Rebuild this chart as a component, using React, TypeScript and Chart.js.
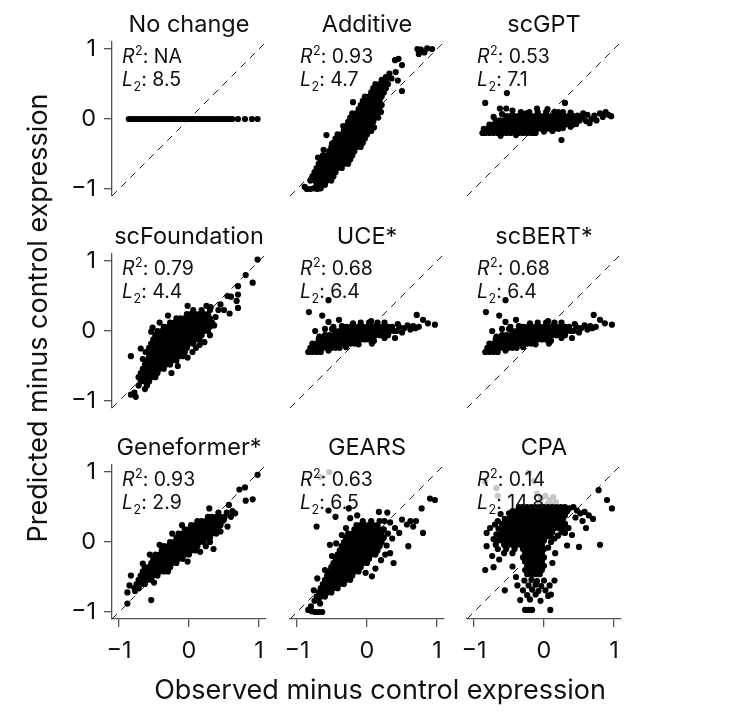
import React, { useEffect, useRef } from 'react';
import { Chart, registerables } from 'chart.js';

Chart.register(...registerables);

const FONT = "Inter, 'Noto Sans', sans-serif";

const panelTitles = ['No change', 'Additive', 'scGPT', 'scFoundation', 'UCE*', 'scBERT*', 'Geneformer*', 'GEARS', 'CPA'];
const r2Labels = ['NA', '0.93', '0.53', '0.79', '0.68', '0.68', '0.93', '0.63', '0.14'];
const l2Labels = ['8.5', '4.7', '7.1', '4.4', '6.4', '6.4', '2.9', '6.5', '14.8'];
const tickValues = [-1, 0, 1];

type Rows = number[][];
type Pairs = [number, number][];

// No change predicts 0 for every gene; observed values along the line
const noChangeObserved = [
  -0.86, -0.83, -0.79, -0.76, -0.72, -0.69, -0.65, -0.62, -0.58, -0.55, -0.51, -0.48, -0.44, -0.41,
  -0.37, -0.34, -0.3, -0.27, -0.23, -0.2, -0.16, -0.13, -0.09, -0.06, -0.02, 0.01, 0.05, 0.08, 0.12,
  0.15, 0.19, 0.22, 0.26, 0.29, 0.33, 0.36, 0.4, 0.43, 0.47, 0.5, 0.54, 0.57, 0.6, 0.62, 0.7, 0.8, 0.9, 0.98,
];

const additiveRows: Rows = [
  [-0.94, -0.72, -0.66, -0.6],
  [-0.88, -0.81, -0.75, -0.69, -0.63, -0.57, -0.51],
  [-0.82, -0.78, -0.72, -0.66, -0.6, -0.54, -0.48],
  [-0.76, -0.75, -0.69, -0.63, -0.57, -0.51, -0.45],
  [-0.7, -0.72, -0.66, -0.6, -0.54, -0.48, -0.42, -0.36],
  [-0.64, -0.69, -0.63, -0.57, -0.51, -0.45, -0.39, -0.33, -0.27],
  [-0.58, -0.66, -0.6, -0.54, -0.48, -0.42, -0.36, -0.3, -0.24],
  [-0.52, -0.63, -0.57, -0.51, -0.45, -0.39, -0.33, -0.27, -0.21],
  [-0.46, -0.54, -0.48, -0.42, -0.36, -0.3, -0.24, -0.18],
  [-0.4, -0.51, -0.45, -0.39, -0.33, -0.27, -0.21, -0.15, -0.09],
  [-0.34, -0.48, -0.42, -0.36, -0.3, -0.24, -0.18, -0.12, -0.06],
  [-0.28, -0.45, -0.39, -0.33, -0.27, -0.21, -0.15, -0.09, -0.03],
  [-0.22, -0.42, -0.36, -0.3, -0.24, -0.18, -0.12, -0.06, 0.0],
  [-0.16, -0.33, -0.27, -0.21, -0.15, -0.09, -0.03, 0.03],
  [-0.1, -0.3, -0.24, -0.18, -0.12, -0.06, 0.0, 0.06],
  [-0.04, -0.27, -0.21, -0.15, -0.09, -0.03, 0.03, 0.09],
  [0.02, -0.24, -0.18, -0.12, -0.06, 0.0, 0.06, 0.12],
  [0.08, -0.21, -0.15, -0.09, -0.03, 0.03, 0.09, 0.15],
  [0.14, -0.12, -0.06, 0.0, 0.06, 0.12, 0.18],
  [0.2, -0.09, -0.03, 0.03, 0.09, 0.15, 0.21],
  [0.26, -0.06, 0.0, 0.06, 0.12, 0.18],
  [0.32, -0.03, 0.03, 0.09, 0.15, 0.21],
  [0.38, 0.06, 0.12, 0.18, 0.24],
  [0.44, 0.09, 0.15, 0.21, 0.27],
  [0.5, 0.12, 0.18, 0.24, 0.3],
  [0.56, 0.21, 0.27],
];
const additiveExtra: Pairs = [
  [-0.86, -1.0], [-0.81, -1.0], [-0.76, -0.99], [-0.71, -1.0], [-0.66, -0.99], [-0.89, -0.97],
  [-0.58, -0.23], [0.27, 0.6], [0.32, 0.65], [0.35, 0.58], [0.41, 0.67], [0.44, 0.55], [0.5, 0.4],
  [0.4, 0.84], [0.45, 0.86], [0.5, 0.77], [0.72, 1.0], [0.77, 0.99], [0.82, 0.95], [0.86, 1.01],
  [0.93, 1.0], [0.74, 0.93], [0.1, -0.12], [0.16, 0.02], [-0.5, -0.35],
  [-0.46, -0.56], [-0.36, -0.46], [-0.1, -0.28], [0.06, -0.17], [0.2, 0.1], [-0.34, -0.1], [-0.2, 0.24],
  [-0.62, -0.44], [-0.7, -0.55],
];

const scgptRows: Rows = [
  [-0.2, -0.84, -0.78, -0.72, -0.66, -0.6, -0.54, -0.48, -0.42, -0.36, -0.3, -0.24, -0.18, -0.12],
  [-0.14, -0.81, -0.75, -0.69, -0.63, -0.57, -0.51, -0.45, -0.39, -0.33, -0.27, -0.21, -0.15, -0.09, -0.03, 0.03, 0.09, 0.15, 0.21],
  [-0.08, -0.78, -0.72, -0.66, -0.6, -0.54, -0.48, -0.42, -0.36, -0.3, -0.24, -0.18, -0.12, -0.06, 0.0, 0.06, 0.12, 0.18, 0.24, 0.3, 0.36, 0.42],
  [-0.02, -0.69, -0.63, -0.57, -0.51, -0.45, -0.39, -0.33, -0.27, -0.21, -0.15, -0.09, -0.03, 0.03, 0.09, 0.15, 0.21, 0.27, 0.33, 0.39, 0.45, 0.51],
  [0.04, -0.54, -0.48, -0.42, -0.36, -0.3, -0.24, -0.18, -0.12, -0.06, 0.0, 0.06, 0.12, 0.18, 0.24, 0.3, 0.36, 0.42],
  [0.1, -0.33, -0.21, -0.09, 0.03, 0.15, 0.27],
];
const scgptExtra: Pairs = [
  [-0.88, -0.2], [0.55, 0.02], [0.56, 0.08], [0.6, -0.03], [0.62, 0.06], [0.65, -0.06], [0.68, 0.0],
  [0.72, 0.05], [0.75, -0.02], [0.8, 0.08], [0.84, 0.03], [0.88, 0.1], [0.92, 0.06], [0.96, 0.04],
  [-0.84, 0.23], [-0.53, 0.37], [-0.63, 0.15], [-0.54, 0.15], [0.25, -0.3], [0.3, 0.23], [0.46, -0.07],
  [-0.45, 0.12], [-0.1, 0.15], [0.05, 0.14],
  [-0.62, -0.24], [-0.4, -0.23], [-0.16, -0.2], [0.0, -0.18], [0.12, -0.17], [0.27, -0.13], [0.38, -0.11],
  [-0.6, 0.07], [-0.25, 0.08], [0.2, 0.1], [0.38, 0.09], [0.48, 0.05], [-0.86, -0.14], [-0.72, 0.03],
];

const scfoundationRows: Rows = [
  [0.3, 0.06, 0.18, 0.3, 0.42],
  [0.24, -0.03, 0.03, 0.09, 0.15, 0.21, 0.27],
  [0.18, -0.18, -0.12, -0.06, 0.0, 0.06, 0.12, 0.18, 0.24, 0.3],
  [0.12, -0.27, -0.21, -0.15, -0.09, -0.03, 0.03, 0.09, 0.15, 0.21, 0.27, 0.33],
  [0.06, -0.36, -0.3, -0.24, -0.18, -0.12, -0.06, 0.0, 0.06, 0.12, 0.18, 0.24, 0.3],
  [0.0, -0.45, -0.39, -0.33, -0.27, -0.21, -0.15, -0.09, -0.03, 0.03, 0.09, 0.15, 0.21, 0.27],
  [-0.06, -0.48, -0.42, -0.36, -0.3, -0.24, -0.18, -0.12, -0.06, 0.0, 0.06, 0.12, 0.18],
  [-0.12, -0.51, -0.45, -0.39, -0.33, -0.27, -0.21, -0.15, -0.09, -0.03, 0.03, 0.09, 0.15],
  [-0.18, -0.54, -0.48, -0.42, -0.36, -0.3, -0.24, -0.18, -0.12, -0.06, 0.0, 0.06],
  [-0.24, -0.57, -0.51, -0.45, -0.39, -0.33, -0.27, -0.21, -0.15, -0.09, -0.03],
  [-0.3, -0.54, -0.48, -0.42, -0.36, -0.3, -0.24, -0.18, -0.12, -0.06],
  [-0.36, -0.57, -0.51, -0.45, -0.39, -0.33, -0.27, -0.21, -0.15, -0.09],
  [-0.42, -0.6, -0.54, -0.48, -0.42, -0.36, -0.3, -0.24, -0.18],
  [-0.48, -0.63, -0.57, -0.51, -0.45, -0.39, -0.33, -0.27],
  [-0.54, -0.66, -0.6, -0.54, -0.48, -0.42, -0.36],
  [-0.6, -0.69, -0.63, -0.57, -0.51, -0.45],
  [-0.66, -0.72, -0.66, -0.6, -0.54, -0.48],
  [-0.72, -0.69, -0.63, -0.57],
  [-0.78, -0.72, -0.6],
];
const scfoundationExtra: Pairs = [
  [-0.83, -0.91], [-0.78, -0.88], [-0.76, -0.94], [-0.63, -0.83], [-0.83, -0.36], [-0.69, -0.25], [-0.54, -0.01],
  [0.31, 0.34], [0.5, 0.3], [0.58, 0.25], [0.7, 0.33], [0.55, 0.5], [0.6, 0.49], [0.7, 0.52], [0.68, 0.43],
  [0.81, 0.8], [0.91, 0.69], [0.98, 1.02], [0.7, 0.64], [0.45, 0.38], [0.38, 0.2], [-0.25, -0.6], [0.05, -0.3],
  [0.15, -0.2], [-0.02, 0.36], [0.25, 0.36],
  [-0.52, 0.05], [-0.42, 0.12], [-0.3, 0.22], [0.36, 0.08], [0.3, -0.06], [0.22, -0.16], [0.1, -0.24],
  [-0.66, -0.4], [-0.62, -0.3], [-0.02, -0.38], [-0.16, -0.5],
];

const uceRows: Rows = [
  [-0.3, -0.84, -0.78, -0.72, -0.66],
  [-0.24, -0.81, -0.75, -0.69, -0.63, -0.57, -0.51, -0.45, -0.39],
  [-0.18, -0.78, -0.72, -0.66, -0.6, -0.54, -0.48, -0.42, -0.36, -0.3, -0.24, -0.18],
  [-0.12, -0.69, -0.63, -0.57, -0.51, -0.45, -0.39, -0.33, -0.27, -0.21, -0.15, -0.09, -0.03, 0.03],
  [-0.06, -0.6, -0.54, -0.48, -0.42, -0.36, -0.3, -0.24, -0.18, -0.12, -0.06, 0.0, 0.06, 0.12, 0.18, 0.24, 0.3],
  [0.0, -0.45, -0.39, -0.33, -0.27, -0.21, -0.15, -0.09, -0.03, 0.03, 0.09, 0.15, 0.21, 0.27, 0.33, 0.39],
  [0.06, -0.3, -0.24, -0.18, -0.12, -0.06, 0.0, 0.06, 0.12, 0.18, 0.24, 0.3, 0.36],
  [0.12, -0.09, 0.03, 0.15],
];
const uceExtra: Pairs = [
  [0.42, 0.0], [0.46, 0.06], [0.5, -0.02], [0.53, 0.04], [0.58, 0.08], [0.62, 0.02], [0.66, 0.07],
  [0.69, 0.04], [0.74, 0.06], [0.71, 0.23], [0.8, 0.16], [0.87, 0.11], [0.97, 0.09], [0.44, 0.1],
  [-0.83, 0.27], [-0.64, 0.22], [-0.74, 0.0], [-0.55, 0.44], [-0.4, 0.16], [-0.55, 0.13], [-0.48, 0.06],
  [0.07, -0.18], [0.4, -0.1], [-0.6, 0.03],
  [-0.55, -0.28], [-0.3, -0.23], [-0.12, -0.19], [0.1, -0.14], [0.25, -0.1], [-0.68, -0.08], [-0.5, 0.03],
  [-0.36, 0.07], [-0.2, 0.11], [0.06, 0.14], [0.25, 0.12],
];

// scBERT* reads the same as UCE* in the figure
const scbertRows: Rows = uceRows;
const scbertExtra: Pairs = uceExtra;

const geneformerRows: Rows = [
  [0.42, 0.42, 0.54],
  [0.36, 0.27, 0.33, 0.39, 0.45, 0.51],
  [0.3, 0.12, 0.18, 0.24, 0.3, 0.36, 0.42, 0.48],
  [0.24, 0.03, 0.09, 0.15, 0.21, 0.27, 0.33, 0.39, 0.45],
  [0.18, -0.06, 0.0, 0.06, 0.12, 0.18, 0.24, 0.3, 0.36, 0.42],
  [0.12, -0.15, -0.09, -0.03, 0.03, 0.09, 0.15, 0.21, 0.27, 0.33, 0.39],
  [0.06, -0.18, -0.12, -0.06, 0.0, 0.06, 0.12, 0.18, 0.24, 0.3],
  [0.0, -0.27, -0.21, -0.15, -0.09, -0.03, 0.03, 0.09, 0.15, 0.21],
  [-0.06, -0.36, -0.3, -0.24, -0.18, -0.12, -0.06, 0.0, 0.06, 0.12, 0.24],
  [-0.12, -0.39, -0.33, -0.27, -0.21, -0.15, -0.09, -0.03, 0.03, 0.09],
  [-0.18, -0.48, -0.42, -0.36, -0.3, -0.24, -0.18, -0.12, -0.06, 0.0],
  [-0.24, -0.51, -0.45, -0.39, -0.33, -0.27, -0.21, -0.15, -0.09],
  [-0.3, -0.54, -0.48, -0.42, -0.36, -0.3, -0.24, -0.18],
  [-0.36, -0.63, -0.57, -0.51, -0.45, -0.39, -0.33, -0.27],
  [-0.42, -0.66, -0.6, -0.54, -0.48, -0.42, -0.36],
  [-0.48, -0.69, -0.63, -0.57, -0.51, -0.45],
  [-0.54, -0.72, -0.66, -0.6, -0.54],
  [-0.6, -0.75, -0.69, -0.63],
  [-0.66, -0.78, -0.72],
];
const geneformerExtra: Pairs = [
  [-0.83, -0.48], [-0.66, -0.31], [-0.54, -0.83], [-0.88, -0.72], [-0.85, -0.62], [-0.77, -0.7], [-0.88, -0.88],
  [0.98, 0.96], [0.8, 0.78], [0.72, 0.75], [0.81, 0.59], [0.91, 0.61], [0.57, 0.53], [0.29, 0.48], [0.5, 0.32],
  [0.6, 0.36], [0.62, 0.44], [0.66, 0.41], [0.55, 0.22], [0.45, 0.15], [0.35, -0.1],
  [-0.56, -0.18], [-0.42, -0.04], [-0.24, 0.12], [-0.1, 0.24], [0.3, 0.0], [0.16, -0.14], [-0.02, -0.28],
  [-0.3, -0.42], [-0.5, -0.58],
];

const gearsRows: Rows = [
  [0.3, -0.06, 0.06, 0.18],
  [0.24, -0.15, -0.09, -0.03, 0.03, 0.09, 0.15],
  [0.18, -0.18, -0.12, -0.06, 0.0, 0.06, 0.12, 0.18, 0.24],
  [0.12, -0.27, -0.21, -0.15, -0.09, -0.03, 0.03, 0.09, 0.15, 0.21],
  [0.06, -0.3, -0.24, -0.18, -0.12, -0.06, 0.0, 0.06, 0.12, 0.18, 0.24],
  [0.0, -0.33, -0.27, -0.21, -0.15, -0.09, -0.03, 0.03, 0.09, 0.15, 0.21],
  [-0.06, -0.36, -0.3, -0.24, -0.18, -0.12, -0.06, 0.0, 0.06, 0.12, 0.18],
  [-0.12, -0.39, -0.33, -0.27, -0.21, -0.15, -0.09, -0.03, 0.03, 0.09, 0.15],
  [-0.18, -0.42, -0.36, -0.3, -0.24, -0.18, -0.12, -0.06, 0.0, 0.06, 0.12],
  [-0.24, -0.45, -0.39, -0.33, -0.27, -0.21, -0.15, -0.09, -0.03, 0.03],
  [-0.3, -0.48, -0.42, -0.36, -0.3, -0.24, -0.18, -0.12, -0.06, 0.0],
  [-0.36, -0.51, -0.45, -0.39, -0.33, -0.27, -0.21, -0.15, -0.09],
  [-0.42, -0.54, -0.48, -0.42, -0.36, -0.3, -0.24, -0.18, -0.12],
  [-0.48, -0.57, -0.51, -0.45, -0.39, -0.33, -0.27, -0.21],
  [-0.54, -0.6, -0.54, -0.48, -0.42, -0.36, -0.3, -0.24],
  [-0.6, -0.63, -0.57, -0.51, -0.45, -0.39, -0.33],
  [-0.66, -0.66, -0.6, -0.54, -0.48, -0.42],
  [-0.72, -0.69, -0.63, -0.57, -0.51],
  [-0.78, -0.72, -0.66, -0.6],
  [-0.84, -0.75, -0.69],
];
const gearsExtra: Pairs = [
  [-0.84, -0.97], [-0.79, -0.99], [-0.74, -1.0], [-0.69, -1.0], [-0.64, -1.0], [-0.8, -0.92], [-0.76, -0.69],
  [-0.71, -0.52], [-0.67, -0.88],
  [-0.72, 0.22], [-0.55, 0.45], [-0.45, 0.36], [-0.26, 0.48], [-0.24, 0.34], [-0.14, 0.38], [-0.53, -0.04],
  [0.17, 0.43], [0.29, 0.42], [0.5, 0.32], [0.57, 0.25], [0.46, 0.13], [0.66, 0.22], [0.59, -0.06], [0.78, 0.48],
  [0.8, 0.13], [0.9, 0.62], [0.97, 0.6], [0.38, -0.3], [0.33, -0.16], [0.07, -0.49], [0.26, -0.18], [0.25, 0.3],
  [0.33, 0.28], [0.4, 0.2], [0.36, 0.05], [0.28, -0.05], [0.3, 0.12], [0.62, 0.3], [0.7, 0.3], [-0.36, 0.1],
  [-0.44, -0.02], [-0.5, -0.2], [-0.6, -0.4], [0.2, -0.26], [0.12, -0.38], [-0.02, -0.44], [-0.3, 0.2],
];
// values hidden behind the labels, drawn in grey
const gearsHidden: Pairs = [[-0.67, 0.93], [-0.54, 1.0]];

const cpaRows: Rows = [
  [0.5, -0.36, -0.3, -0.24, -0.18, -0.12, -0.06, 0.0, 0.06, 0.12, 0.18, 0.24, 0.3],
  [0.44, -0.45, -0.39, -0.33, -0.27, -0.21, -0.15, -0.09, -0.03, 0.03, 0.09, 0.15, 0.21, 0.27, 0.33],
  [0.38, -0.48, -0.42, -0.36, -0.3, -0.24, -0.18, -0.12, -0.06, 0.0, 0.06, 0.12, 0.18, 0.24, 0.3],
  [0.32, -0.51, -0.45, -0.39, -0.33, -0.27, -0.21, -0.15, -0.09, -0.03, 0.03, 0.09, 0.15, 0.21, 0.27],
  [0.26, -0.54, -0.48, -0.42, -0.36, -0.3, -0.24, -0.18, -0.12, -0.06, 0.0, 0.06, 0.12, 0.18, 0.24],
  [0.2, -0.57, -0.51, -0.45, -0.39, -0.33, -0.27, -0.21, -0.15, -0.09, -0.03, 0.03, 0.09, 0.15, 0.21],
  [0.14, -0.6, -0.54, -0.48, -0.42, -0.36, -0.3, -0.24, -0.18, -0.12, -0.06, 0.0, 0.06, 0.12],
  [0.08, -0.63, -0.57, -0.51, -0.45, -0.39, -0.33, -0.27, -0.21, -0.15, -0.09, -0.03, 0.03, 0.09],
  [0.02, -0.66, -0.6, -0.54, -0.48, -0.42, -0.36, -0.3, -0.24, -0.18, -0.12, -0.06, 0.0],
  [-0.04, -0.69, -0.57, -0.51, -0.45, -0.39, -0.33, -0.27, -0.21, -0.15, -0.09, -0.03],
  [-0.1, -0.66, -0.54, -0.42, -0.3, -0.24, -0.18, -0.12, -0.06, 0.0],
  [-0.16, -0.57, -0.45, -0.27, -0.21, -0.15, -0.09, -0.03],
  [-0.22, -0.3, -0.24, -0.18, -0.12, -0.06, 0.0],
  [-0.28, -0.27, -0.21, -0.15, -0.09, -0.03],
  [-0.34, -0.24, -0.18, -0.12, -0.06, 0.0],
  [-0.4, -0.27, -0.21, -0.15, -0.09, -0.03],
  [-0.46, -0.24, -0.18, -0.12, -0.06],
];
const cpaExtra: Pairs = [
  [-0.28, -0.55], [-0.18, -0.54], [-0.1, -0.56], [0.0, -0.55], [-0.22, -0.62], [-0.12, -0.61], [-0.04, -0.63],
  [0.08, -0.62], [-0.3, -0.69], [-0.17, -0.68], [-0.08, -0.7], [0.02, -0.69], [-0.24, -0.76], [-0.12, -0.75],
  [0.06, -0.77], [-0.34, -0.83], [-0.2, -0.82], [-0.05, -0.84],
  [-0.27, -0.97], [-0.22, -0.97], [-0.17, -0.97], [0.09, -0.97],
  [-0.84, -0.4], [-0.72, -0.36], [-0.56, -0.69], [-0.82, -0.06], [-0.82, 0.13], [-0.77, 0.2], [-0.7, 0.25],
  [-0.66, 0.3], [-0.62, 0.4], [-0.74, -0.2], [-0.64, -0.25], [-0.45, -0.35], [-0.4, -0.5], [-0.38, -0.62],
  [0.12, -0.3], [0.15, -0.55], [0.1, -0.75], [0.16, -0.16],
  [0.36, 0.48], [0.42, 0.5], [0.47, 0.45], [0.52, 0.41], [0.58, 0.43], [0.64, 0.38], [0.7, 0.33], [0.45, 0.35],
  [0.55, 0.3], [0.8, -0.04], [0.9, 0.6], [0.97, 0.48], [0.78, 0.74], [0.5, -0.07], [0.3, 0.13], [0.35, 0.2],
  [0.4, 0.1], [0.33, -0.05], [0.6, 0.2],
  [-0.5, 0.41], [-0.56, 0.33], [-0.6, 0.26], [-0.65, 0.19], [-0.68, 0.11], [-0.72, 0.04],
  [0.27, 0.2], [0.3, 0.26], [0.25, 0.14], [0.2, 0.09], [0.15, 0.05], [0.1, 0.0], [0.06, -0.08],
];
const cpaHidden: Pairs = [
  [-0.84, 0.86], [-0.68, 0.77], [-0.66, 0.66], [-0.22, 0.99], [-0.14, 0.87], [-0.1, 0.69], [-0.04, 0.62],
  [0.02, 0.66], [0.08, 0.6], [0.13, 0.64], [0.17, 0.57], [-0.06, 0.56], [0.05, 0.54], [0.11, 0.53],
];

const fromRows = (rows: Rows): Pairs => rows.flatMap(([y, ...xs]) => xs.map((x) => [x, y] as [number, number]));

const panelPoints: Pairs[] = [
  noChangeObserved.map((x) => [x, 0] as [number, number]),
  [...fromRows(additiveRows), ...additiveExtra],
  [...fromRows(scgptRows), ...scgptExtra],
  [...fromRows(scfoundationRows), ...scfoundationExtra],
  [...fromRows(uceRows), ...uceExtra],
  [...fromRows(scbertRows), ...scbertExtra],
  [...fromRows(geneformerRows), ...geneformerExtra],
  [...fromRows(gearsRows), ...gearsExtra],
  [...fromRows(cpaRows), ...cpaExtra],
];
const panelHidden: Pairs[] = [[], [], [], [], [], [], [], gearsHidden, cpaHidden];

// layout (page pixels)
const COL_LEFT = [112, 290, 467];
const ROW_TOP = [42, 254, 465];
const PLOT = 154;
const Y_AXIS_W = 60;
const X_AXIS_H = 56;
const PAD_TOP = 44;
const PAD_RIGHT = 14;
const CW = Y_AXIS_W + PLOT + PAD_RIGHT;
const CH = PAD_TOP + PLOT + X_AXIS_H;
const AXIS_MIN = -1.1;
const AXIS_MAX = 1.1;
const DOT = 3.1;

const fmtTick = (v: number | string) => {
  const n = Number(v);
  return n < 0 ? '\u2212' + Math.abs(n) : String(n);
};

function drawScript(ctx: CanvasRenderingContext2D, base: string, small: string, raise: number, rest: string, x: number, y: number) {
  ctx.font = `italic 19.5px ${FONT}`;
  ctx.fillText(base, x, y);
  x += ctx.measureText(base).width + 0.5;
  ctx.font = `12.5px ${FONT}`;
  ctx.fillText(small, x, y - raise);
  x += ctx.measureText(small).width;
  ctx.font = `19.5px ${FONT}`;
  ctx.fillText(rest, x, y);
}

const panelText = {
  id: 'panelText',
  afterDraw(chart: any, _args: any, opts: any) {
    const { ctx, chartArea: a } = chart;
    ctx.save();
    ctx.fillStyle = '#111';
    ctx.textBaseline = 'alphabetic';
    ctx.textAlign = 'center';
    ctx.font = `23.5px ${FONT}`;
    ctx.fillText(opts.title, (a.left + a.right) / 2, a.top - 10);
    ctx.textAlign = 'left';
    drawScript(ctx, 'R', '2', 8, ': ' + opts.r2, a.left + 10, a.top + 21);
    drawScript(ctx, 'L', '2', -5, ': ' + opts.l2, a.left + 10, a.top + 44);
    ctx.restore();
  },
};

function axisOptions(axis: 'x' | 'y', show: boolean) {
  return {
    type: 'linear',
    min: AXIS_MIN,
    max: AXIS_MAX,
    afterBuildTicks: (s: any) => {
      s.ticks = tickValues.map((v) => ({ value: v }));
    },
    afterFit: (s: any) => {
      if (axis === 'y') s.width = Y_AXIS_W;
      else s.height = X_AXIS_H;
    },
    border: { display: show, color: '#555', width: 1.3 },
    grid: { display: show, drawOnChartArea: false, tickLength: 8, color: '#555', lineWidth: 1.3 },
    ticks: {
      display: show,
      color: '#111',
      font: { family: FONT, size: 23.5 },
      padding: axis === 'y' ? 8 : 10,
      maxRotation: 0,
      callback: fmtTick,
    },
  };
}

function Panel({ index }: { index: number }) {
  const ref = useRef<HTMLCanvasElement>(null);
  const row = Math.floor(index / 3);
  const col = index % 3;

  useEffect(() => {
    if (!ref.current) return;
    const chart = new Chart(ref.current, {
      type: 'scatter',
      data: {
        datasets: [
          {
            data: [{ x: AXIS_MIN, y: AXIS_MIN }, { x: AXIS_MAX, y: AXIS_MAX }],
            showLine: true,
            borderColor: '#222',
            borderWidth: 1,
            borderDash: [7, 6],
            pointRadius: 0,
            order: 3,
          },
          {
            data: panelHidden[index].map(([x, y]) => ({ x, y })),
            pointRadius: DOT,
            pointBorderWidth: 0,
            pointBackgroundColor: '#c6c6c6',
            order: 2,
          },
          {
            data: panelPoints[index].map(([x, y]) => ({ x, y })),
            pointRadius: DOT,
            pointBorderWidth: 0,
            pointBackgroundColor: '#000',
            order: 1,
          },
        ],
      },
      options: {
        responsive: false,
        animation: false,
        events: [],
        layout: { padding: { top: PAD_TOP, right: PAD_RIGHT, left: 0, bottom: 0 } },
        scales: {
          x: axisOptions('x', row === 2),
          y: axisOptions('y', col === 0),
        } as any,
        plugins: {
          legend: { display: false },
          tooltip: { enabled: false },
          panelText: { title: panelTitles[index], r2: r2Labels[index], l2: l2Labels[index] },
        } as any,
      },
      plugins: [panelText],
    });
    return () => chart.destroy();
  }, [index]);

  return (
    <canvas
      ref={ref}
      width={CW}
      height={CH}
      style={{
        position: 'absolute',
        left: COL_LEFT[col] - Y_AXIS_W,
        top: ROW_TOP[row] - PAD_TOP,
        width: CW,
        height: CH,
      }}
    />
  );
}

export default function App() {
  return (
    <div
      style={{
        position: 'absolute',
        left: 0,
        top: 0,
        width: 730,
        height: 724,
        background: '#fff',
        fontFamily: FONT,
        color: '#111',
        overflow: 'hidden',
      }}
    >
      {panelTitles.map((t, i) => (
        <Panel key={t} index={i} />
      ))}
      <div
        style={{
          position: 'absolute',
          left: 38 - 260,
          top: 318 - 16,
          width: 520,
          height: 32,
          lineHeight: '32px',
          textAlign: 'center',
          fontSize: 27,
          transform: 'rotate(-90deg)',
          whiteSpace: 'nowrap',
        }}
      >
        Predicted minus control expression
      </div>
      <div
        style={{
          position: 'absolute',
          left: 380 - 260,
          top: 690 - 16,
          width: 520,
          height: 32,
          lineHeight: '32px',
          textAlign: 'center',
          fontSize: 27,
          whiteSpace: 'nowrap',
        }}
      >
        Observed minus control expression
      </div>
    </div>
  );
}
